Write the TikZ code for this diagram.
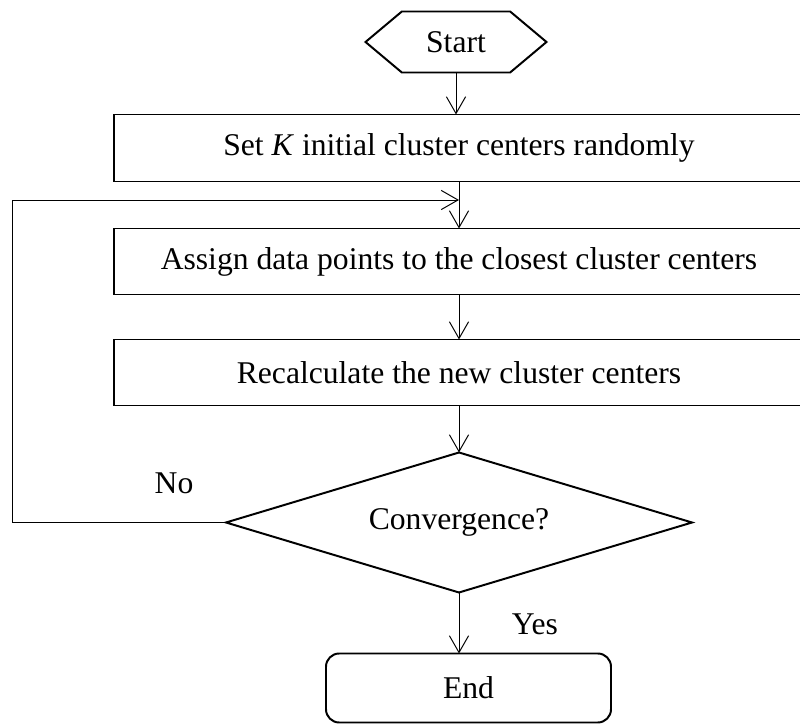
\documentclass[tikz,border=0pt]{standalone}
\usepackage{fontspec}
\setmainfont{Liberation Serif}
\usepackage{tikz}
\usetikzlibrary{arrows.meta,shapes,positioning}
\tikzstyle{terminal} = [signal, signal to=west and east, signal pointer angle=80, minimum width=4.525cm, minimum height=1.525cm, inner sep=0pt, outer sep=0pt, draw, line width=1.4pt]
\tikzstyle{process} = [rectangle, minimum width=17.25cm, minimum height=1.65cm, text centered, outer sep=0pt, draw, line width=1.4pt]
\tikzstyle{decision} = [diamond, aspect=3.3, minimum width=11.65cm, minimum height=3.5cm, inner sep=0pt, outer sep=0pt, draw, line width=1.4pt]
\tikzstyle{endbox} = [rectangle, rounded corners=0.33cm, minimum width=7.125cm, minimum height=1.725cm, text centered, outer sep=0pt, draw, line width=1.4pt]
\tikzstyle{arrow} = [line width=0.7pt, -{Straight Barb[length=0.42cm, width=0.48cm]}]

\begin{document}
\begin{tikzpicture}[font=\fontsize{22.5}{27}\selectfont]
\useasboundingbox (0,0) rectangle (20,18.125);
% start and steps
\node[terminal] (start) at (11.4,17.075) {Start};
\node[process, below=1.05cm of start, xshift=0.075cm, minimum height=1.675cm] (init) {Set \textit{K} initial cluster centers randomly};
\node[process, below=1.175cm of init] (assign) {Assign data points to the closest cluster centers};
\node[process, below=1.125cm of assign] (update) {Recalculate the new cluster centers};

% test and end
\node[decision, below=1.175cm of update] (conv) {Convergence?};
\node[endbox, below=1.525cm of conv, xshift=0.2375cm] (end) {End};
\node (no) at (4.35,6.05) {No};
\node (yes) at (13.375,2.525) {Yes};

\coordinate (loop) at (0.3,13.125);
\draw[arrow] (start.south) -- (start.south |- init.north);
\draw[arrow] (init) -- (assign);
\draw[arrow] (assign) -- (update);
\draw[arrow] (update) -- (conv);
\draw[arrow] (conv.south) -- (conv.south |- end.north);
\draw[arrow] (conv.west) -| (loop) -- (loop -| init.south);
\end{tikzpicture}
\end{document}
